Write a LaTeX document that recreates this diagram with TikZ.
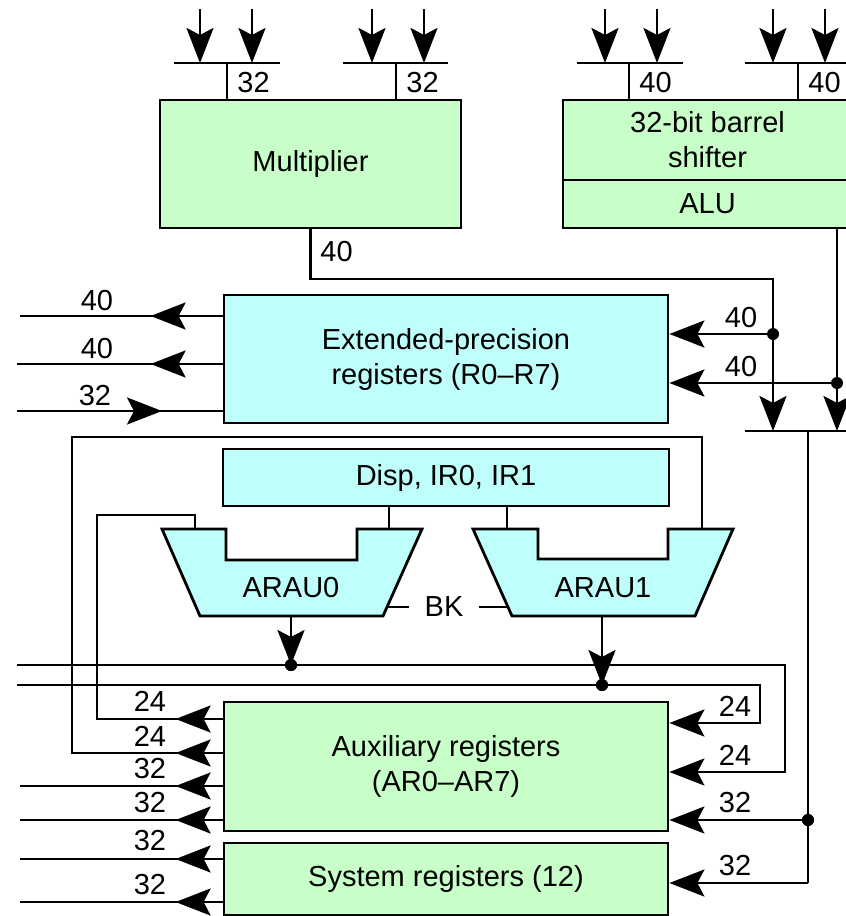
\documentclass[tikz,border=0pt]{standalone}
\usepackage{fontspec}
\setmainfont{Liberation Sans}
\usetikzlibrary{arrows.meta,decorations.markings,calc}
\definecolor{regGreen}{RGB}{200,255,200}
\definecolor{regCyan}{RGB}{190,255,252}
\begin{document}
\begin{tikzpicture}[x=1pt,y=-1pt,line width=2.8pt,
  every node/.style={font=\fontsize{29}{35}\selectfont},
  box/.style={draw,line width=2.8pt,inner sep=0pt,align=center},
  bigtip/.tip={Stealth[length=35pt,width=27pt,inset=7pt]},
  midtip/.style={postaction={decorate,decoration={markings,mark=at position #1 with {\arrow{bigtip}}}}},
  jdot/.style={circle,fill=black,draw=none,inner sep=0pt,minimum size=12pt},
  lbl/.style={inner sep=0pt}]
\fill[white] (0,0) rectangle (846,916);
\useasboundingbox (0,0) rectangle (846,916);

% ---- boxes
\node[box,fill=regGreen,minimum width=301pt,minimum height=128pt] (mul) at (310.5,164) {Multiplier};
\node[box,fill=regGreen,minimum width=289pt,minimum height=80pt] (shf) at (707.5,140) {32-bit barrel\\shifter};
\node[box,fill=regGreen,minimum width=289pt,minimum height=48pt] (alu) at (707.5,204) {ALU};
\node[box,fill=regCyan,minimum width=444pt,minimum height=128pt] (ext) at (446,359) {Extended-precision\\registers (R0–R7)};
\node[box,fill=regCyan,minimum width=446pt,minimum height=57pt] (disp) at (446,477.5) {Disp, IR0, IR1};
\node[box,fill=regGreen,minimum width=444pt,minimum height=129pt] (aux) at (446,766.5) {Auxiliary registers\\(AR0–AR7)};
\node[box,fill=regGreen,minimum width=444pt,minimum height=72pt] (sys) at (446,879) {System registers (12)};

% ---- ARAU shapes
\draw[fill=regCyan] (162,529) -- (226,529) -- (226,560) -- (357,560) -- (357,529) -- (422,529) -- (383,616) -- (200,616) -- cycle;
\draw[fill=regCyan] (473,529) -- (538,529) -- (538,559) -- (668,559) -- (668,529) -- (733,529) -- (695,616) -- (512,616) -- cycle;
\node (arau0) at (291,588) {ARAU0};
\node (arau1) at (603,588) {ARAU1};
\coordinate (a0l) at (195,529);
\coordinate (a0r) at (389,529);
\coordinate (a1l) at (507,529);
\coordinate (a1r) at (702,529);
\coordinate (a0o) at (291,616);
\coordinate (a1o) at (602,616);

% ---- top input buses
\foreach \l/\r/\pa/\pb/\s/\t [count=\i] in {174/280/200/252/227/32, 343/448/372/424/396/32, 577/683/605/657/629/40, 745/852/773/825/798/40}{
  \coordinate (bl\i) at (\l,63);
  \coordinate (br\i) at (\r,63);
  \coordinate (bs\i) at (\s,63);
  \coordinate (ta\i) at (\pa,9);
  \coordinate (tb\i) at (\pb,9);
  \draw (bl\i) -- (br\i);
  \draw[-bigtip] (ta\i) -- (ta\i |- bl\i);
  \draw[-bigtip] (tb\i) -- (tb\i |- bl\i);
  \draw (bs\i) -- (bs\i |- mul.north);
  \node[lbl,anchor=west] (tl\i) at ($(bs\i)+(9,20)$) {\t};
}

% ---- multiplier output and ALU output into the lower bus
\coordinate (mo) at (773,279);
\coordinate (bx1) at (773,431);
\coordinate (bx2) at (837,431);
\draw[-bigtip] (mul.south) -- (mul.south |- mo) -- (mo) -- (bx1);
\node[lbl,anchor=west] (lm) at (319,252) {40};
\draw[-bigtip] (alu.south -| bx2) -- (bx2);
\coordinate (bbl) at (745,431);
\coordinate (bbr) at (852,431);
\draw (bbl) -- (bbr);

\node[jdot] (d1) at (773,334) {};
\node[jdot] (d2) at (837,383) {};
\draw[-bigtip] (d1.center) -- (d1.center -| ext.east);
\draw[-bigtip] (d2.center) -- (d2.center -| ext.east);
\node[lbl] (le1) at (741,318) {40};
\node[lbl] (le2) at (741,367) {40};

% ---- extended left side
\coordinate (el1) at (20,316);
\coordinate (el2) at (17,364);
\coordinate (el3) at (17,411);
\draw[midtip=72pt] (el1 -| ext.west) -- (el1);
\draw[midtip=72pt] (el2 -| ext.west) -- (el2);
\draw[midtip=145pt] (el3) -- (el3 -| ext.west);
\node[lbl] (lx1) at (97,301) {40};
\node[lbl] (lx2) at (97,349) {40};
\node[lbl] (lx3) at (95,396) {32};

% ---- Disp to ARAUs
\draw (disp.south -| a0r) -- (a0r);
\draw (disp.south -| a1l) -- (a1l);

% ---- BK
\node[lbl] (bk) at (444,607) {BK};
\coordinate (bk0) at (387,607);
\coordinate (bk1) at (508,607);
\draw (bk0) -- ($(bk.west)+(-14,0)$);
\draw ($(bk.east)+(14,0)$) -- (bk1);

% ---- ARAU outputs and buses
\node[jdot] (d3) at (291,665) {};
\node[jdot] (d4) at (602,685) {};
\draw[-bigtip] (a0o) -- (d3.center);
\draw[-bigtip] (a1o) -- (d4.center);
\coordinate (h1l) at (17,665);
\coordinate (h1r) at (785,665);
\coordinate (h1d) at (785,772);
\coordinate (h2l) at (17,685);
\coordinate (h2r) at (760,685);
\coordinate (h2d) at (760,723);
\draw[-bigtip] (h1l) -- (h1r) -- (h1d) -- (h1d -| aux.east);
\draw[-bigtip] (h2l) -- (h2r) -- (h2d) -- (h2d -| aux.east);
\node[jdot] at (d3) {};
\node[jdot] at (d4) {};

% ---- loops from aux to ARAUs
\coordinate (lo1) at (72,753);
\coordinate (lo2) at (72,437);
\coordinate (lo3) at (702,437);
\draw[midtip=47pt] (lo1 -| aux.west) -- (lo1) -- (lo2) -- (lo3) -- (a1r);
\coordinate (li1) at (97,719);
\coordinate (li2) at (97,515);
\coordinate (li3) at (195,515);
\draw[midtip=47pt] (li1 -| aux.west) -- (li1) -- (li2) -- (li3) -- (a0l);

% ---- aux / sys left outputs
\coordinate (al3) at (20,786);
\coordinate (al4) at (20,820);
\coordinate (sl1) at (20,859);
\coordinate (sl2) at (20,902);
\draw[midtip=47pt] (al3 -| aux.west) -- (al3);
\draw[midtip=47pt] (al4 -| aux.west) -- (al4);
\draw[midtip=47pt] (sl1 -| sys.west) -- (sl1);
\draw[midtip=47pt] (sl2 -| sys.west) -- (sl2);
\node[lbl] (la1) at (150,701) {24};
\node[lbl] (la2) at (150,736) {24};
\node[lbl] (la3) at (150,769) {32};
\node[lbl] (la4) at (150,803) {32};
\node[lbl] (ls1) at (150,841) {32};
\node[lbl] (ls2) at (150,885) {32};

% ---- right side into aux / sys
\coordinate (sysin) at (808,883);
\node[jdot] (d5) at (808,820) {};
\draw (bbl -| sysin) -- (sysin);
\draw[-bigtip] (sysin) -- (sysin -| sys.east);
\draw[-bigtip] (d5.center) -- (d5.center -| aux.east);
\node[jdot] at (d5) {};
\node[lbl] (ra1) at (735,706) {24};
\node[lbl] (ra2) at (735,755) {24};
\node[lbl] (ra3) at (735,803) {32};
\node[lbl] (rs1) at (735,866) {32};
\end{tikzpicture}
\end{document}
